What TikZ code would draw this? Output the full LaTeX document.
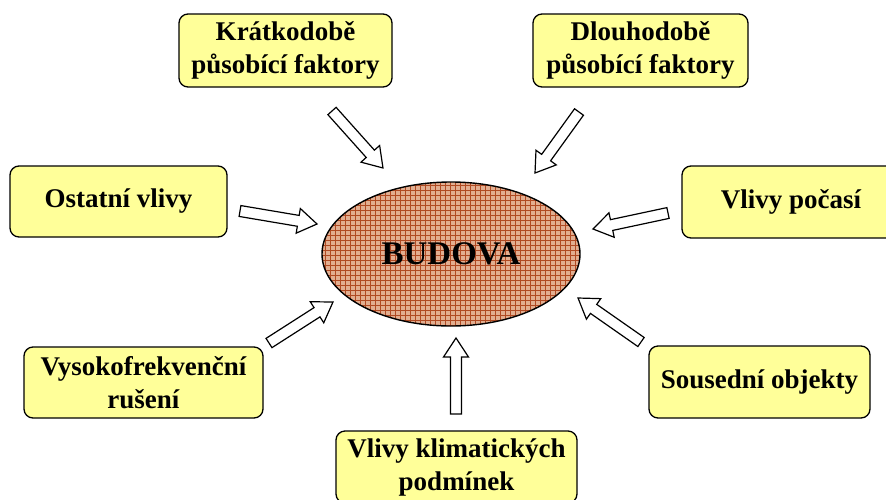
\documentclass[tikz,border=0pt]{standalone}
\usepackage{fontspec}
\setmainfont{Liberation Serif}
\usetikzlibrary{calc,shapes.geometric}

\definecolor{boxfill}{HTML}{FFFF99}
\definecolor{brickfill}{HTML}{E2AE90}
\definecolor{brickline}{HTML}{B04A22}

\tikzset{
  factor/.style={draw=black, line width=1.3pt, rounded corners=9pt, fill=boxfill,
    align=center, inner sep=2pt,
    font=\fontsize{27}{33}\selectfont\bfseries},
  blockarrow/.style={draw=black, fill=white, line width=1.2pt, line join=miter},
}

% hollow block arrow from tail coordinate #1 to tip coordinate #2
\newcommand\blockarrow[2]{%
  \draw[blockarrow] let \p1=(#1), \p2=(#2),
      \n1={atan2(\y2-\y1,\x2-\x1)}, \n2={veclen(\x2-\x1,\y2-\y1)} in
    [shift={(\p1)}, rotate=\n1]
    (0,-5.5) -- (\n2-19,-5.5) -- (\n2-19,-12.5) -- (\n2,0)
    -- (\n2-19,12.5) -- (\n2-19,5.5) -- (0,5.5) -- cycle;}

\begin{document}
\begin{tikzpicture}[x=1pt, y=1pt]
  \clip (0,0) rectangle (886,-499);
  \fill[white] (0,0) rectangle (886,-499);

  % the building: cross-hatched ellipse
  \begin{scope}
    \clip (451,-254) ellipse [x radius=129, y radius=72];
    \fill[brickfill] (322,-182) rectangle (580,-326);
    \draw[brickline, line width=0.45pt, step=5pt] (320,-180) grid (582,-328);
  \end{scope}
  \node[draw=black, line width=1.4pt, ellipse, inner sep=0pt, minimum width=258pt, minimum height=144pt,
        font=\fontsize{33}{38}\selectfont\bfseries] (budova) at (451,-254) {BUDOVA};

  % influencing factors
  \node[factor, minimum width=213pt, minimum height=73pt] (kratko) at (285.5,-50.5)
    {Krátkodobě\\působící faktory};
  \node[factor, minimum width=215pt, minimum height=73pt] (dlouho) at (640.5,-50.5)
    {Dlouhodobě\\působící faktory};
  \node[factor, minimum width=217pt, minimum height=71pt] (ostatni) at (118.5,-201.5)
    {Ostatní vlivy};
  \node[factor, minimum width=218pt, minimum height=72pt] (pocasi) at (791,-202)
    {Vlivy počasí};
  \node[factor, minimum width=239pt, minimum height=71pt] (vysoko) at (143.5,-382.5)
    {Vysokofrekvenční\\rušení};
  \node[factor, minimum width=221pt, minimum height=72pt] (soused) at (759.5,-382)
    {Sousední objekty};
  \node[factor, minimum width=241pt, minimum height=72pt] (klima) at (456.5,-467)
    {Vlivy klimatických\\podmínek};

  % arrow ends
  \coordinate (kratkoT) at (332,-111);  \coordinate (kratkoH) at (383,-168);
  \coordinate (dlouhoT) at (579,-112);  \coordinate (dlouhoH) at (535,-173);
  \coordinate (ostatniT) at (240,-211); \coordinate (ostatniH) at (317,-224);
  \coordinate (pocasiT) at (668,-213);  \coordinate (pocasiH) at (593,-229);
  \coordinate (vysokoT) at (269,-343);  \coordinate (vysokoH) at (333,-302);
  \coordinate (sousedT) at (641,-342);  \coordinate (sousedH) at (578,-298);
  \coordinate (klimaT) at (456,-414);   \coordinate (klimaH) at (456,-338);

  \blockarrow{kratkoT}{kratkoH}
  \blockarrow{dlouhoT}{dlouhoH}
  \blockarrow{ostatniT}{ostatniH}
  \blockarrow{pocasiT}{pocasiH}
  \blockarrow{vysokoT}{vysokoH}
  \blockarrow{sousedT}{sousedH}
  \blockarrow{klimaT}{klimaH}
\end{tikzpicture}
\end{document}
